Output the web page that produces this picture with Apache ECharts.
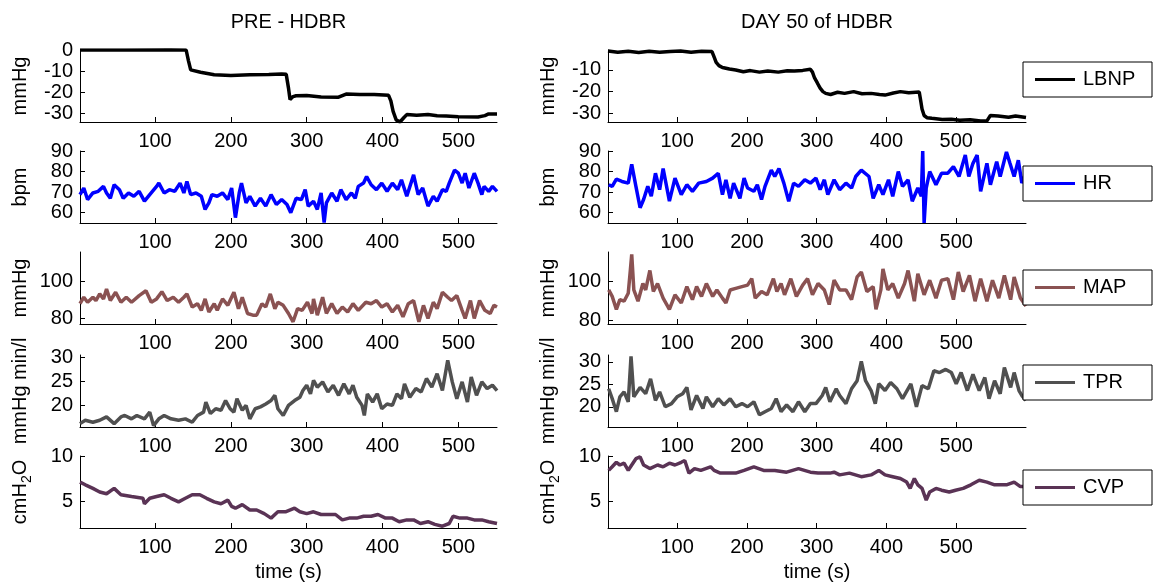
<!DOCTYPE html>
<html>
<head>
<meta charset="utf-8">
<script src="https://cdn.jsdelivr.net/npm/echarts@6/dist/echarts.min.js"></script>
<style>
  html, body { margin: 0; padding: 0; background: #fff; }
  #chart { width: 1155px; height: 583px; }
</style>
</head>
<body>
<div id="chart"></div>
<script>
// Tick labels
const timeTicks = [ 100, 200, 300, 400, 500 ];
const lbnpTicksPre = [ -30, -20, -10, 0 ];
const lbnpTicksDay = [ -30, -20, -10 ];
const hrTicks = [ 60, 70, 80, 90 ];
const mapTicks = [ 80, 100 ];
const tprTicks = [ 20, 25, 30 ];
const cvpTicks = [ 5, 10 ];

// Series values, [time (s), value]
const lbnpPre = [ [ 1, 0 ], [ 60, 0 ], [ 120, 0.1 ], [ 141, 0 ], [ 144, -5 ], [ 147, -9.4 ], [ 160, -10.5 ],
	[ 178, -11.7 ], [ 200, -12 ], [ 225, -11.7 ], [ 250, -11.6 ], [ 267, -11.3 ], [ 273, -11.5 ], [ 276, -18 ],
	[ 278, -23.4 ], [ 282, -22 ], [ 286, -21.6 ], [ 300, -21.5 ], [ 319, -22.2 ], [ 342, -22.3 ], [ 352, -20.8 ],
	[ 370, -21 ], [ 389, -21 ], [ 408, -21.4 ], [ 411, -24 ], [ 414, -29 ], [ 418, -33 ], [ 423, -34 ], [ 428, -32 ],
	[ 432, -30.5 ], [ 445, -30.8 ], [ 460, -30.5 ], [ 472, -31 ], [ 484, -31.2 ], [ 500, -31.5 ], [ 526, -31.6 ],
	[ 535, -31 ], [ 540, -30.2 ], [ 551, -30.2 ] ];
const lbnpDay = [ [ 1, -1.3 ], [ 15, -1.8 ], [ 30, -1.4 ], [ 45, -1.9 ], [ 60, -1.4 ], [ 75, -1.8 ], [ 90, -1.5 ],
	[ 105, -1.3 ], [ 120, -1.8 ], [ 135, -1.4 ], [ 150, -1.5 ], [ 153, -4 ], [ 156, -6.5 ], [ 160, -8 ], [ 165, -8.9 ],
	[ 175, -9.6 ], [ 184, -10 ], [ 195, -10.8 ], [ 205, -10.3 ], [ 218, -11 ], [ 230, -10.5 ], [ 245, -11 ],
	[ 258, -10.4 ], [ 268, -10.5 ], [ 280, -10.2 ], [ 291, -9.7 ], [ 294, -11 ], [ 297, -13.7 ], [ 301, -16 ],
	[ 305, -18.4 ], [ 309, -20 ], [ 313, -20.8 ], [ 320, -21.3 ], [ 330, -20.3 ], [ 340, -20.8 ], [ 353, -20 ],
	[ 365, -21 ], [ 378, -20.8 ], [ 390, -21.3 ], [ 398, -21.6 ], [ 410, -20.6 ], [ 420, -20 ], [ 432, -20.5 ],
	[ 447, -20.2 ], [ 449, -24 ], [ 451, -28 ], [ 454, -31 ], [ 458, -32 ], [ 465, -32.3 ], [ 480, -32.8 ],
	[ 493, -32.7 ], [ 505, -33.2 ], [ 520, -33 ], [ 535, -33.5 ], [ 544, -33.5 ], [ 547, -32 ], [ 549, -31 ],
	[ 560, -31.2 ], [ 575, -31.8 ], [ 585, -31.2 ], [ 600, -31.9 ] ];

const hrPre = [ [ 1, 68.8 ], [ 6, 72 ], [ 11, 66.4 ], [ 18, 69.6 ], [ 25, 70.4 ], [ 32, 72.8 ], [ 36, 69.6 ],
	[ 41, 67 ], [ 46, 73.6 ], [ 53, 71.2 ], [ 58, 67 ], [ 65, 69.6 ], [ 72, 68 ], [ 79, 70.4 ], [ 86, 65.6 ],
	[ 93, 68.8 ], [ 102, 72.8 ], [ 105, 74.4 ], [ 112, 69.6 ], [ 119, 71.2 ], [ 126, 70.4 ], [ 133, 74.4 ],
	[ 138, 69.6 ], [ 142, 75.2 ], [ 147, 68.8 ], [ 154, 69.6 ], [ 161, 68 ], [ 166, 61.6 ], [ 171, 64.8 ],
	[ 175, 68.8 ], [ 182, 68 ], [ 189, 69.6 ], [ 196, 66.4 ], [ 201, 72 ], [ 206, 57.6 ], [ 211, 69.6 ],
	[ 214, 74.4 ], [ 220, 64.8 ], [ 225, 68 ], [ 232, 63.2 ], [ 239, 67 ], [ 246, 63.2 ], [ 253, 68.8 ],
	[ 260, 64 ], [ 267, 66.4 ], [ 274, 64 ], [ 279, 60 ], [ 286, 67 ], [ 293, 66.4 ], [ 298, 71.2 ], [ 302, 63.2 ],
	[ 309, 65.6 ], [ 314, 61.6 ], [ 319, 69.6 ], [ 323, 55.2 ], [ 326, 64.8 ], [ 333, 69.6 ], [ 340, 65.6 ],
	[ 345, 71.2 ], [ 352, 66.4 ], [ 359, 69.6 ], [ 364, 67 ], [ 368, 72.8 ], [ 375, 74.4 ], [ 379, 77.6 ],
	[ 385, 73.6 ], [ 392, 71.2 ], [ 399, 74.4 ], [ 406, 70.4 ], [ 413, 74.4 ], [ 420, 71.2 ], [ 425, 76 ],
	[ 432, 68 ], [ 441, 78.4 ], [ 447, 68.8 ], [ 453, 72 ], [ 460, 63.2 ], [ 467, 68 ], [ 472, 65.6 ],
	[ 479, 71.2 ], [ 484, 70.4 ], [ 488, 74.4 ], [ 495, 80.7 ], [ 500, 79.2 ], [ 505, 74.4 ], [ 509, 79.2 ],
	[ 514, 72 ], [ 521, 79.2 ], [ 526, 74.4 ], [ 531, 68.8 ], [ 534, 72.8 ], [ 540, 70.4 ], [ 545, 72.8 ],
	[ 551, 70.4 ] ];
const hrDay = [ [ 2, 73.6 ], [ 7, 72.8 ], [ 13, 76.3 ], [ 21, 75.2 ], [ 30, 74.4 ], [ 35, 83.5 ], [ 41, 72.8 ],
	[ 47, 62.4 ], [ 52, 66.4 ], [ 58, 72.8 ], [ 63, 68 ], [ 69, 79.2 ], [ 75, 71.2 ], [ 80, 81.5 ], [ 89, 65.6 ],
	[ 97, 76.8 ], [ 106, 68.8 ], [ 114, 73.6 ], [ 122, 70.4 ], [ 131, 74.4 ], [ 142, 75.2 ], [ 151, 76.8 ],
	[ 159, 79.2 ], [ 165, 68.8 ], [ 170, 76 ], [ 176, 67 ], [ 181, 74.4 ], [ 190, 67 ], [ 196, 76.8 ], [ 201, 72 ],
	[ 210, 70.4 ], [ 215, 73.6 ], [ 221, 66.4 ], [ 226, 72.8 ], [ 235, 80.7 ], [ 240, 77.6 ], [ 246, 81.5 ],
	[ 253, 74.4 ], [ 260, 65.6 ], [ 267, 74.4 ], [ 274, 72.8 ], [ 283, 76 ], [ 291, 74.4 ], [ 299, 76.8 ],
	[ 305, 71.2 ], [ 311, 76 ], [ 316, 68.8 ], [ 325, 76 ], [ 333, 71.2 ], [ 342, 74.4 ], [ 350, 72 ],
	[ 356, 77.6 ], [ 364, 80.7 ], [ 375, 77.6 ], [ 381, 67 ], [ 389, 73.6 ], [ 395, 68.8 ], [ 403, 76 ],
	[ 409, 68 ], [ 417, 80 ], [ 423, 72.8 ], [ 431, 76 ], [ 437, 65.6 ], [ 445, 72 ], [ 450, 68 ], [ 452, 90 ],
	[ 454, 55 ], [ 457, 72 ], [ 462, 80 ], [ 471, 73.6 ], [ 479, 79.2 ], [ 488, 79.2 ], [ 496, 82.4 ],
	[ 504, 77.6 ], [ 513, 88 ], [ 518, 77.6 ], [ 524, 84 ], [ 530, 88 ], [ 535, 70.4 ], [ 544, 84 ], [ 549, 73.6 ],
	[ 558, 84.8 ], [ 563, 77.6 ], [ 572, 89.5 ], [ 577, 84 ], [ 583, 77.6 ], [ 589, 85.5 ], [ 594, 74.4 ],
	[ 600, 79.2 ] ];

const mapPre = [ [ 1, 88 ], [ 6, 91.5 ], [ 11, 88.8 ], [ 18, 91.5 ], [ 22, 89.7 ], [ 27, 93.3 ], [ 32, 90.6 ],
	[ 36, 95.9 ], [ 41, 89.7 ], [ 48, 94.2 ], [ 55, 88.8 ], [ 62, 91.5 ], [ 69, 88.8 ], [ 79, 92.4 ], [ 88, 95 ],
	[ 95, 88.8 ], [ 102, 90.6 ], [ 109, 94.5 ], [ 116, 89.7 ], [ 124, 91.5 ], [ 131, 88.8 ], [ 138, 91.5 ],
	[ 142, 93.3 ], [ 149, 86.2 ], [ 156, 88 ], [ 161, 84.4 ], [ 166, 90.6 ], [ 171, 83.5 ], [ 178, 88 ],
	[ 182, 84.4 ], [ 189, 90.6 ], [ 196, 87.1 ], [ 204, 94.2 ], [ 210, 85.3 ], [ 215, 91.5 ], [ 222, 82.7 ],
	[ 229, 81.8 ], [ 234, 81.8 ], [ 241, 88 ], [ 246, 86.2 ], [ 252, 93.3 ], [ 258, 85.3 ], [ 262, 88.8 ],
	[ 269, 87.1 ], [ 276, 82.7 ], [ 282, 78.2 ], [ 288, 85.3 ], [ 294, 84.4 ], [ 301, 88.8 ], [ 307, 82.7 ],
	[ 309, 90.6 ], [ 314, 81.8 ], [ 321, 91.5 ], [ 326, 82.7 ], [ 333, 88 ], [ 340, 82.7 ], [ 347, 86.2 ],
	[ 354, 83.5 ], [ 361, 88 ], [ 368, 84.4 ], [ 378, 88.8 ], [ 385, 88 ], [ 392, 89.7 ], [ 399, 86.2 ],
	[ 406, 88 ], [ 413, 83.5 ], [ 420, 87.1 ], [ 427, 80.9 ], [ 434, 88 ], [ 441, 89.7 ], [ 448, 78.2 ],
	[ 454, 87.1 ], [ 460, 80 ], [ 467, 88.8 ], [ 472, 85.3 ], [ 479, 94.2 ], [ 486, 91.5 ], [ 491, 89.7 ],
	[ 498, 92.4 ], [ 505, 84.4 ], [ 509, 80 ], [ 516, 89.7 ], [ 521, 80 ], [ 528, 89.7 ], [ 535, 84.4 ],
	[ 542, 82.7 ], [ 547, 87.1 ], [ 551, 86.2 ] ];
const mapDay = [ [ 2, 95.5 ], [ 7, 92.2 ], [ 13, 85.5 ], [ 18, 90.5 ], [ 24, 89.7 ], [ 30, 93.8 ], [ 33, 105.5 ],
	[ 35, 113.8 ], [ 38, 95.5 ], [ 44, 89.7 ], [ 51, 98.8 ], [ 55, 95.5 ], [ 61, 105.5 ], [ 66, 94.7 ],
	[ 72, 98.8 ], [ 80, 91.3 ], [ 89, 85.5 ], [ 97, 93 ], [ 106, 88.8 ], [ 114, 97.2 ], [ 122, 90.5 ],
	[ 128, 97.2 ], [ 135, 92.2 ], [ 142, 98.8 ], [ 151, 92.2 ], [ 157, 95.5 ], [ 165, 91.3 ], [ 170, 88.8 ],
	[ 176, 95.5 ], [ 184, 96.3 ], [ 193, 97.2 ], [ 201, 98 ], [ 207, 101.3 ], [ 212, 91.3 ], [ 221, 94.7 ],
	[ 229, 93 ], [ 238, 101.3 ], [ 243, 94.7 ], [ 249, 98.8 ], [ 254, 93 ], [ 263, 101.3 ], [ 271, 92.2 ],
	[ 280, 98 ], [ 287, 101.3 ], [ 294, 93 ], [ 302, 98.8 ], [ 311, 95.5 ], [ 318, 88 ], [ 325, 100.5 ],
	[ 333, 95.5 ], [ 342, 95.5 ], [ 350, 90.5 ], [ 358, 102.2 ], [ 364, 104.7 ], [ 372, 94.7 ], [ 381, 97.2 ],
	[ 385, 85.5 ], [ 392, 95.5 ], [ 395, 106.3 ], [ 402, 95.5 ], [ 409, 98.8 ], [ 417, 91.3 ], [ 426, 98.8 ],
	[ 431, 105.5 ], [ 440, 89.7 ], [ 445, 103.8 ], [ 454, 93 ], [ 462, 100.5 ], [ 471, 91.3 ], [ 479, 100.5 ],
	[ 488, 101.3 ], [ 496, 90.5 ], [ 503, 104.7 ], [ 510, 94.7 ], [ 519, 103 ], [ 527, 89.7 ], [ 535, 101.3 ],
	[ 544, 89.7 ], [ 552, 100.5 ], [ 561, 91.3 ], [ 569, 103 ], [ 578, 90.5 ], [ 583, 102.2 ], [ 592, 91.3 ],
	[ 600, 87.2 ] ];

const tprPre = [ [ 1, 16.2 ], [ 8, 16.9 ], [ 18, 16.5 ], [ 27, 16.9 ], [ 36, 17.6 ], [ 46, 16.2 ], [ 55, 17.6 ],
	[ 60, 17.9 ], [ 69, 17.2 ], [ 76, 17.9 ], [ 86, 17.2 ], [ 93, 18.6 ], [ 98, 15.8 ], [ 105, 17.2 ],
	[ 112, 17.9 ], [ 121, 17.2 ], [ 131, 16.9 ], [ 140, 17.2 ], [ 149, 16.5 ], [ 156, 17.9 ], [ 164, 18.6 ],
	[ 167, 20.7 ], [ 173, 18.3 ], [ 180, 19.3 ], [ 187, 19 ], [ 193, 21 ], [ 199, 19.3 ], [ 204, 18.6 ],
	[ 208, 21.4 ], [ 215, 19 ], [ 220, 20 ], [ 225, 17.2 ], [ 232, 19.3 ], [ 239, 19.7 ], [ 246, 20.3 ],
	[ 253, 21 ], [ 258, 22.1 ], [ 262, 19.3 ], [ 269, 17.9 ], [ 276, 20 ], [ 284, 21 ], [ 291, 21.7 ],
	[ 295, 23.1 ], [ 300, 24.2 ], [ 305, 22.4 ], [ 309, 25.2 ], [ 314, 23.8 ], [ 321, 24.9 ], [ 328, 22.8 ],
	[ 335, 24.2 ], [ 342, 22.1 ], [ 349, 24.5 ], [ 356, 22.4 ], [ 361, 24.2 ], [ 366, 21.7 ], [ 373, 20 ],
	[ 376, 17.9 ], [ 380, 22.4 ], [ 387, 20.7 ], [ 393, 22.4 ], [ 399, 19.3 ], [ 406, 20.3 ], [ 413, 20 ],
	[ 419, 22.4 ], [ 425, 21.4 ], [ 429, 24.5 ], [ 436, 21.7 ], [ 444, 23.5 ], [ 451, 22.8 ], [ 458, 25.6 ],
	[ 465, 23.8 ], [ 472, 26.6 ], [ 479, 23.1 ], [ 486, 29.4 ], [ 492, 24.9 ], [ 498, 21.4 ], [ 505, 24.9 ],
	[ 512, 20.7 ], [ 517, 25.9 ], [ 524, 22.1 ], [ 531, 24.9 ], [ 538, 23.5 ], [ 545, 24.2 ], [ 551, 23.1 ] ];
const tprDay = [ [ 2, 24 ], [ 7, 21.8 ], [ 13, 18.9 ], [ 18, 22.2 ], [ 24, 23.3 ], [ 30, 21.1 ], [ 34, 31.2 ],
	[ 38, 22.2 ], [ 47, 24.3 ], [ 55, 22.9 ], [ 62, 26.2 ], [ 69, 21.4 ], [ 75, 23.3 ], [ 83, 20 ], [ 92, 20.7 ],
	[ 100, 22.2 ], [ 108, 22.9 ], [ 114, 24.3 ], [ 120, 19.3 ], [ 128, 22.5 ], [ 137, 19.6 ], [ 142, 22.2 ],
	[ 151, 20 ], [ 159, 21.8 ], [ 167, 20.4 ], [ 176, 21.8 ], [ 184, 20 ], [ 193, 20.7 ], [ 201, 20 ],
	[ 210, 21.1 ], [ 218, 18.2 ], [ 226, 18.9 ], [ 235, 19.6 ], [ 242, 21.8 ], [ 249, 18.9 ], [ 257, 20.4 ],
	[ 266, 18.9 ], [ 274, 21.1 ], [ 283, 18.9 ], [ 291, 20.7 ], [ 299, 20.7 ], [ 308, 22.5 ], [ 313, 24.3 ],
	[ 319, 21.1 ], [ 328, 24 ], [ 333, 22.5 ], [ 342, 20.7 ], [ 350, 24 ], [ 358, 25.8 ], [ 364, 30.1 ],
	[ 370, 25.8 ], [ 378, 23.6 ], [ 384, 20.7 ], [ 389, 25.1 ], [ 398, 23.6 ], [ 406, 25.4 ], [ 415, 24 ],
	[ 423, 21.8 ], [ 435, 25.1 ], [ 443, 20 ], [ 451, 24.7 ], [ 460, 24 ], [ 468, 28 ], [ 476, 27.6 ],
	[ 485, 28.3 ], [ 493, 27.6 ], [ 500, 25.1 ], [ 507, 27.6 ], [ 516, 23.6 ], [ 524, 27.2 ], [ 533, 23.6 ],
	[ 541, 26.5 ], [ 547, 21.8 ], [ 555, 25.8 ], [ 563, 22.9 ], [ 569, 28.7 ], [ 578, 24.3 ], [ 583, 27.6 ],
	[ 590, 23.6 ], [ 594, 22.5 ], [ 600, 21.4 ] ];

const cvpPre = [ [ 1, 7.1 ], [ 8, 6.8 ], [ 18, 6.4 ], [ 27, 6 ], [ 36, 5.8 ], [ 46, 6.4 ], [ 55, 5.7 ], [ 69, 5.5 ],
	[ 84, 5.3 ], [ 86, 4.7 ], [ 93, 5.3 ], [ 102, 5.5 ], [ 112, 5.7 ], [ 121, 5.3 ], [ 131, 4.9 ], [ 140, 5.3 ],
	[ 149, 5.7 ], [ 159, 5.7 ], [ 168, 5.3 ], [ 178, 4.9 ], [ 187, 4.7 ], [ 196, 5.1 ], [ 201, 4.4 ],
	[ 206, 4.2 ], [ 215, 4.6 ], [ 225, 4 ], [ 234, 4 ], [ 244, 3.6 ], [ 253, 3.1 ], [ 262, 3.8 ], [ 272, 3.8 ],
	[ 284, 4.2 ], [ 291, 3.8 ], [ 300, 3.6 ], [ 309, 3.8 ], [ 319, 3.5 ], [ 328, 3.5 ], [ 338, 3.5 ],
	[ 347, 2.9 ], [ 356, 3.1 ], [ 366, 3.1 ], [ 375, 3.3 ], [ 385, 3.3 ], [ 394, 3.5 ], [ 404, 3.1 ],
	[ 413, 3.1 ], [ 422, 2.7 ], [ 432, 2.9 ], [ 441, 2.9 ], [ 450, 2.5 ], [ 460, 2.7 ], [ 469, 2.4 ],
	[ 479, 2.2 ], [ 488, 2.5 ], [ 493, 3.3 ], [ 502, 3.1 ], [ 512, 3.1 ], [ 521, 2.9 ], [ 531, 2.9 ],
	[ 540, 2.7 ], [ 551, 2.5 ] ];
const cvpDay = [ [ 2, 8.4 ], [ 7, 8.8 ], [ 13, 9.3 ], [ 18, 9 ], [ 24, 9.2 ], [ 30, 8.4 ], [ 35, 9 ], [ 41, 9.7 ],
	[ 47, 9.9 ], [ 52, 9 ], [ 61, 8.6 ], [ 72, 9 ], [ 80, 8.8 ], [ 89, 9.2 ], [ 97, 9 ], [ 106, 9.3 ],
	[ 111, 9.5 ], [ 117, 8.1 ], [ 125, 8.6 ], [ 134, 8.4 ], [ 148, 8.8 ], [ 153, 8.4 ], [ 162, 8.1 ],
	[ 173, 8.1 ], [ 184, 8.1 ], [ 196, 8.4 ], [ 210, 8.8 ], [ 224, 8.4 ], [ 240, 8.4 ], [ 257, 8.2 ],
	[ 274, 8.6 ], [ 291, 8.2 ], [ 302, 8.1 ], [ 319, 8.1 ], [ 325, 8.2 ], [ 333, 7.9 ], [ 347, 8.1 ],
	[ 364, 7.7 ], [ 378, 7.9 ], [ 389, 8.4 ], [ 398, 7.9 ], [ 409, 7.7 ], [ 420, 7.5 ], [ 429, 7.1 ],
	[ 434, 6.4 ], [ 440, 7.5 ], [ 445, 6.8 ], [ 451, 6.4 ], [ 457, 5.1 ], [ 462, 6 ], [ 471, 6.4 ], [ 479, 6.2 ],
	[ 490, 6 ], [ 499, 6.2 ], [ 510, 6.4 ], [ 521, 6.8 ], [ 533, 7.3 ], [ 544, 7.1 ], [ 555, 6.8 ], [ 572, 6.8 ],
	[ 583, 7.1 ], [ 592, 6.6 ], [ 600, 6.6 ] ];

const FONT = '"Liberation Sans", Arial, Helvetica, sans-serif';
const FONT_SIZE = 20;

// One entry per row of plots
const rows = [
	{ name: 'LBNP', color: '#000000', pre: lbnpPre, day: lbnpDay, ticksPre: lbnpTicksPre, ticksDay: lbnpTicksDay,
		rangePre: [ -34, 0 ], rangeDay: [ -34, -0.8 ], label: 'mmHg', top: 50, legendTop: 62 },
	{ name: 'HR', color: '#0000ff', pre: hrPre, day: hrDay, ticksPre: hrTicks, ticksDay: hrTicks,
		rangePre: [ 55, 90 ], rangeDay: [ 55, 90 ], label: 'bpm', top: 151, legendTop: 166 },
	{ name: 'MAP', color: '#8a5252', pre: mapPre, day: mapDay, ticksPre: mapTicks, ticksDay: mapTicks,
		rangePre: [ 77, 116 ], rangeDay: [ 78, 115 ], label: 'mmHg', top: 252, legendTop: 270 },
	{ name: 'TPR', color: '#505050', pre: tprPre, day: tprDay, ticksPre: tprTicks, ticksDay: tprTicks,
		rangePre: [ 15.5, 30.5 ], rangeDay: [ 15.5, 31.5 ], label: 'mmHg min/l', top: 355, legendTop: 365 },
	{ name: 'CVP', color: '#5a3355', pre: cvpPre, day: cvpDay, ticksPre: cvpTicks, ticksDay: cvpTicks,
		rangePre: [ 2, 10 ], rangeDay: [ 2, 10 ], label: '{a|cmH}{s|2}{a|O}', top: 456, legendTop: 470 }
];

const columns = [
	{ key: 'pre', title: 'PRE - HDBR', left: 80, width: 417, xMax: 551 },
	{ key: 'day', title: 'DAY 50 of HDBR', left: 608, width: 418, xMax: 600 }
];
const ROW_HEIGHT = 72;

const grids = [];
const xAxes = [];
const yAxes = [];
const series = [];
const graphics = [];
const legends = [];

const textStyle = { fontFamily: FONT, fontSize: FONT_SIZE, color: '#000' };

columns.forEach( ( col ) => {
	rows.forEach( ( row, r ) => {
		const idx = grids.length;
		const isPre = col.key === 'pre';
		const range = isPre ? row.rangePre : row.rangeDay;
		const ticks = isPre ? row.ticksPre : row.ticksDay;

		grids.push( { left: col.left, top: row.top, width: col.width, height: ROW_HEIGHT } );

		xAxes.push( {
			type: 'value',
			gridIndex: idx,
			min: 1,
			max: col.xMax,
			name: r === rows.length - 1 ? 'time (s)' : '',
			nameLocation: 'middle',
			nameGap: 34,
			nameTextStyle: textStyle,
			axisLine: { show: true, onZero: false, lineStyle: { color: '#000', width: 1 } },
			axisTick: { inside: true, length: 5, customValues: timeTicks, lineStyle: { color: '#000' } },
			axisLabel: Object.assign( { customValues: timeTicks, margin: 9 }, textStyle ),
			splitLine: { show: false }
		} );

		yAxes.push( {
			type: 'value',
			gridIndex: idx,
			min: range[ 0 ],
			max: range[ 1 ],
			axisLine: { show: true, onZero: false, lineStyle: { color: '#000', width: 1 } },
			axisTick: { inside: true, length: 5, customValues: ticks, lineStyle: { color: '#000' } },
			axisLabel: Object.assign( { customValues: ticks, margin: 7 }, textStyle ),
			splitLine: { show: false }
		} );

		series.push( {
			type: 'line',
			name: row.name,
			xAxisIndex: idx,
			yAxisIndex: idx,
			data: row[ col.key ],
			symbol: 'none',
			lineStyle: { color: row.color, width: 3.5 },
			itemStyle: { color: row.color },
			animation: false
		} );

		// Vertical unit label left of each axis
		graphics.push( {
			type: 'text',
			x: col.left - 60,
			y: row.top + ROW_HEIGHT / 2,
			rotation: Math.PI / 2,
			style: {
				text: row.label,
				fontFamily: FONT,
				fontSize: FONT_SIZE,
				fill: '#000',
				align: 'center',
				verticalAlign: 'middle',
				rich: {
					a: { fontFamily: FONT, fontSize: FONT_SIZE, fill: '#000' },
					s: { fontFamily: FONT, fontSize: 14, fill: '#000', padding: [ 14, 0, 0, 0 ] }
				}
			}
		} );
	} );

	graphics.push( {
		type: 'text',
		x: col.left + col.width / 2,
		y: 22,
		style: { text: col.title, fontFamily: FONT, fontSize: FONT_SIZE, fill: '#000', align: 'center', verticalAlign: 'middle' }
	} );
} );

rows.forEach( ( row ) => {
	legends.push( {
		data: [ { name: row.name, icon: 'rect' } ],
		left: 1023,
		top: row.legendTop,
		selectedMode: false,
		backgroundColor: '#fff',
		borderColor: '#000',
		borderWidth: 1,
		borderRadius: 0,
		padding: [ 7, 12, 7, 12 ],
		itemWidth: 40,
		itemHeight: 3,
		textStyle: Object.assign( { width: 57, lineHeight: 21, padding: [ 0, 0, 0, 3 ] }, textStyle )
	} );
} );

const chart = echarts.init( document.getElementById( 'chart' ) );
chart.setOption( {
	backgroundColor: '#fff',
	animation: false,
	grid: grids,
	xAxis: xAxes,
	yAxis: yAxes,
	series: series,
	legend: legends,
	graphic: graphics
} );
</script>
</body>
</html>
